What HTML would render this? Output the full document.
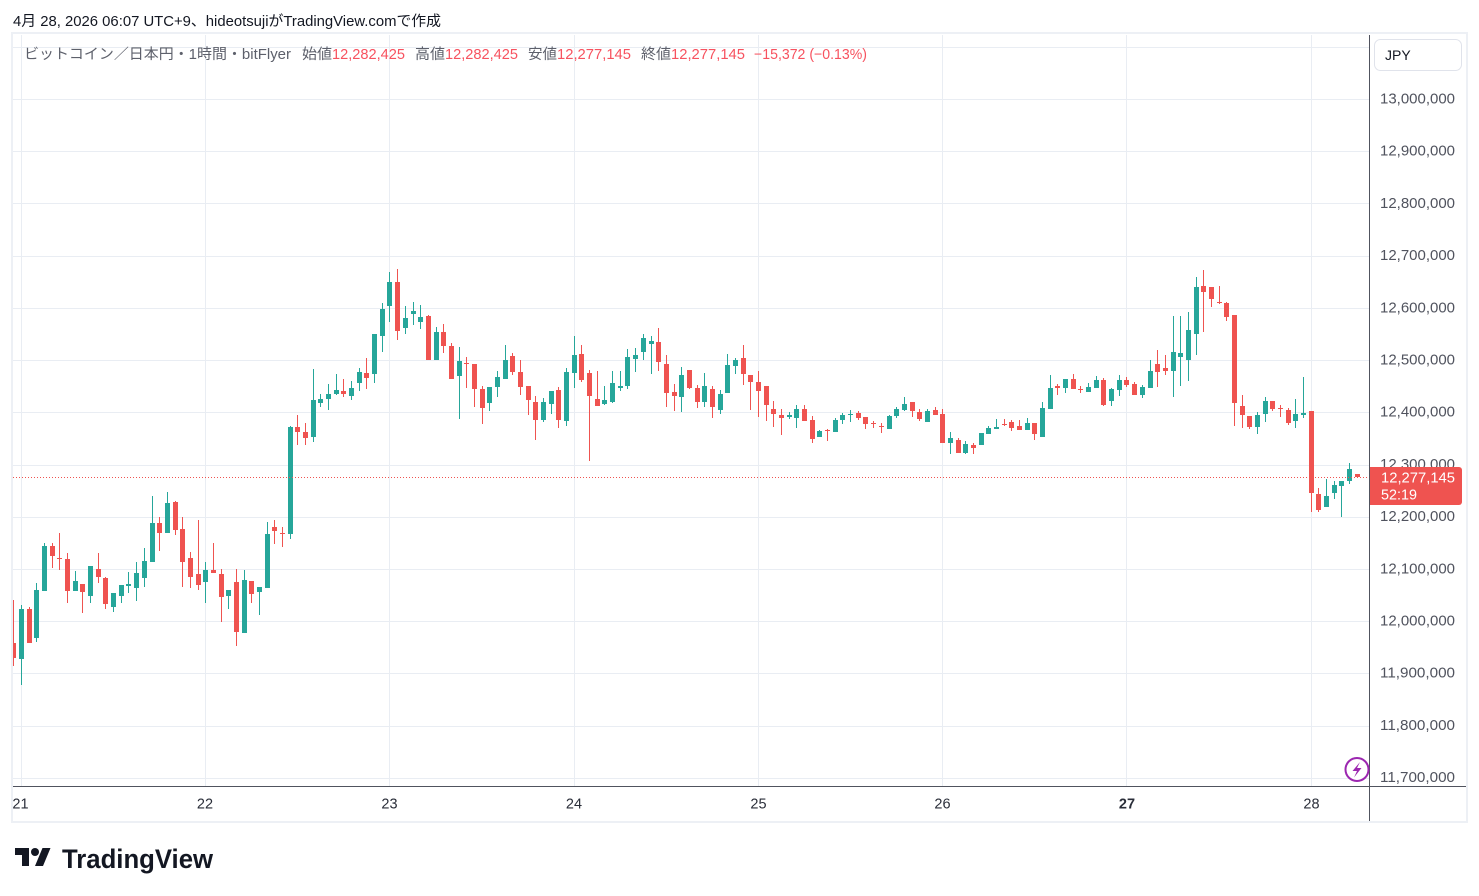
<!DOCTYPE html>
<html><head><meta charset="utf-8"><style>
html,body{margin:0;padding:0;background:#fff;}
svg{display:block;}
text{font-family:"Liberation Sans","Noto Sans CJK JP",sans-serif;}
</style></head><body>
<svg width="1479" height="896" viewBox="0 0 1479 896" xmlns="http://www.w3.org/2000/svg">
<rect x="0" y="0" width="1479" height="896" fill="#fff"/>
<!-- header -->
<text x="13" y="26" font-size="14.5" fill="#131722" textLength="428" lengthAdjust="spacingAndGlyphs">4月 28, 2026 06:07 UTC+9、hideotsujiがTradingView.comで作成</text>
<!-- frame -->
<rect x="12" y="33" width="1455" height="789" fill="none" stroke="#edf0f5" stroke-width="2"/>
<defs><clipPath id="pane"><rect x="13" y="35" width="1356" height="751"/></clipPath></defs>
<!-- grid -->
<g fill="#e9edf3">
<rect x="13" y="47" width="1356" height="1"/>
<rect x="13" y="99" width="1356" height="1"/>
<rect x="13" y="151" width="1356" height="1"/>
<rect x="13" y="203" width="1356" height="1"/>
<rect x="13" y="256" width="1356" height="1"/>
<rect x="13" y="308" width="1356" height="1"/>
<rect x="13" y="360" width="1356" height="1"/>
<rect x="13" y="412" width="1356" height="1"/>
<rect x="13" y="465" width="1356" height="1"/>
<rect x="13" y="517" width="1356" height="1"/>
<rect x="13" y="569" width="1356" height="1"/>
<rect x="13" y="621" width="1356" height="1"/>
<rect x="13" y="673" width="1356" height="1"/>
<rect x="13" y="726" width="1356" height="1"/>
<rect x="13" y="778" width="1356" height="1"/>
<rect x="21" y="35" width="1" height="751"/>
<rect x="205" y="35" width="1" height="751"/>
<rect x="389" y="35" width="1" height="751"/>
<rect x="574" y="35" width="1" height="751"/>
<rect x="758" y="35" width="1" height="751"/>
<rect x="942" y="35" width="1" height="751"/>
<rect x="1126" y="35" width="1" height="751"/>
<rect x="1311" y="35" width="1" height="751"/>
</g>
<!-- legend -->
<g font-size="14.5">
<text x="24" y="59" fill="#5d606b" textLength="267" lengthAdjust="spacingAndGlyphs">ビットコイン／日本円・1時間・bitFlyer</text>
<text x="302" y="59" fill="#5d606b" textLength="30" lengthAdjust="spacingAndGlyphs">始値</text>
<text x="332" y="59" fill="#f7525f" textLength="73" lengthAdjust="spacingAndGlyphs">12,282,425</text>
<text x="415" y="59" fill="#5d606b" textLength="30" lengthAdjust="spacingAndGlyphs">高値</text>
<text x="445" y="59" fill="#f7525f" textLength="73" lengthAdjust="spacingAndGlyphs">12,282,425</text>
<text x="528" y="59" fill="#5d606b" textLength="29" lengthAdjust="spacingAndGlyphs">安値</text>
<text x="557" y="59" fill="#f7525f" textLength="74" lengthAdjust="spacingAndGlyphs">12,277,145</text>
<text x="641" y="59" fill="#5d606b" textLength="30" lengthAdjust="spacingAndGlyphs">終値</text>
<text x="671" y="59" fill="#f7525f" textLength="74" lengthAdjust="spacingAndGlyphs">12,277,145</text>
<text x="754" y="59" fill="#f7525f" textLength="113" lengthAdjust="spacingAndGlyphs">−15,372 (−0.13%)</text>
</g>
<!-- candles -->
<g clip-path="url(#pane)">
<path fill="#26a69a" d="M19,609h5v50h-5zM21,605h1v80h-1zM34,590h5v48h-5zM36,583h1v59h-1zM42,546h5v45h-5zM44,543h1v48h-1zM73,581h5v10h-5zM75,571h1v20h-1zM88,566h5v30h-5zM90,566h1v37h-1zM111,593h5v14h-5zM113,593h1v19h-1zM119,585h5v11h-5zM121,585h1v18h-1zM126,584h5v2h-5zM128,572h1v21h-1zM134,573h5v15h-5zM136,562h1v39h-1zM142,561h5v17h-5zM144,548h1v39h-1zM150,523h5v39h-5zM152,496h1v66h-1zM165,503h5v30h-5zM167,492h1v41h-1zM203,570h5v12h-5zM205,562h1v41h-1zM226,590h5v6h-5zM228,590h1v19h-1zM242,580h5v53h-5zM244,570h1v63h-1zM257,587h5v5h-5zM259,587h1v28h-1zM265,534h5v54h-5zM267,522h1v66h-1zM288,427h5v107h-5zM290,426h1v113h-1zM311,400h5v37h-5zM313,369h1v73h-1zM318,399h5v4h-5zM320,394h1v13h-1zM326,394h5v5h-5zM328,384h1v26h-1zM334,390h5v4h-5zM336,374h1v21h-1zM349,388h5v8h-5zM351,381h1v19h-1zM357,372h5v11h-5zM359,368h1v23h-1zM372,334h5v40h-5zM374,334h1v49h-1zM380,309h5v27h-5zM382,303h1v49h-1zM387,282h5v24h-5zM389,272h1v50h-1zM403,318h5v10h-5zM405,306h1v28h-1zM411,311h5v3h-5zM413,302h1v23h-1zM418,317h5v5h-5zM420,305h1v24h-1zM434,332h5v28h-5zM436,327h1v33h-1zM457,361h5v15h-5zM459,347h1v72h-1zM487,387h5v16h-5zM489,387h1v24h-1zM495,377h5v10h-5zM497,371h1v26h-1zM503,360h5v19h-5zM505,345h1v34h-1zM541,402h5v18h-5zM543,398h1v24h-1zM549,391h5v13h-5zM551,391h1v23h-1zM564,372h5v49h-5zM566,368h1v58h-1zM572,355h5v18h-5zM574,336h1v52h-1zM602,400h5v4h-5zM604,386h1v19h-1zM610,383h5v19h-5zM612,371h1v32h-1zM618,386h5v2h-5zM620,371h1v20h-1zM625,357h5v29h-5zM627,349h1v40h-1zM633,355h5v4h-5zM635,348h1v24h-1zM641,338h5v14h-5zM643,334h1v26h-1zM649,341h5v3h-5zM651,336h1v38h-1zM679,375h5v22h-5zM681,367h1v45h-1zM702,386h5v16h-5zM704,373h1v34h-1zM718,394h5v16h-5zM720,390h1v24h-1zM725,365h5v28h-5zM727,354h1v39h-1zM733,360h5v6h-5zM735,358h1v16h-1zM787,415h5v2h-5zM789,412h1v7h-1zM794,409h5v9h-5zM796,405h1v23h-1zM817,431h5v6h-5zM819,430h1v7h-1zM833,420h5v12h-5zM835,418h1v14h-1zM840,415h5v5h-5zM842,413h1v11h-1zM848,414h5v1h-5zM850,410h1v12h-1zM887,416h5v13h-5zM889,415h1v14h-1zM894,409h5v7h-5zM896,407h1v11h-1zM902,404h5v6h-5zM904,397h1v14h-1zM925,411h5v11h-5zM927,409h1v13h-1zM948,438h5v5h-5zM950,432h1v22h-1zM963,444h5v9h-5zM965,441h1v13h-1zM979,433h5v12h-5zM981,433h1v12h-1zM986,428h5v6h-5zM988,426h1v8h-1zM994,427h5v2h-5zM996,419h1v10h-1zM1025,423h5v7h-5zM1027,418h1v12h-1zM1040,408h5v29h-5zM1042,402h1v35h-1zM1048,388h5v21h-5zM1050,375h1v34h-1zM1063,379h5v9h-5zM1065,379h1v14h-1zM1086,387h5v5h-5zM1088,383h1v9h-1zM1094,380h5v8h-5zM1096,376h1v12h-1zM1109,389h5v12h-5zM1111,388h1v18h-1zM1117,380h5v10h-5zM1119,375h1v21h-1zM1140,387h5v8h-5zM1142,385h1v13h-1zM1148,371h5v17h-5zM1150,360h1v28h-1zM1171,352h5v19h-5zM1173,316h1v81h-1zM1178,353h5v4h-5zM1180,316h1v70h-1zM1186,330h5v30h-5zM1188,312h1v69h-1zM1194,287h5v47h-5zM1196,277h1v78h-1zM1255,415h5v12h-5zM1257,412h1v22h-1zM1263,401h5v13h-5zM1265,397h1v25h-1zM1293,414h5v7h-5zM1295,399h1v29h-1zM1301,413h5v2h-5zM1303,377h1v41h-1zM1324,496h5v11h-5zM1326,479h1v28h-1zM1332,485h5v8h-5zM1334,481h1v18h-1zM1339,481h5v5h-5zM1341,481h1v36h-1zM1347,469h5v12h-5zM1349,463h1v21h-1z"/>
<path fill="#ef5350" d="M11,643h5v15h-5zM13,600h1v66h-1zM27,609h5v34h-5zM29,607h1v36h-1zM50,546h5v10h-5zM52,543h1v25h-1zM57,558h5v1h-5zM59,533h1v37h-1zM65,559h5v32h-5zM67,553h1v50h-1zM80,584h5v8h-5zM82,584h1v29h-1zM96,569h5v8h-5zM98,553h1v30h-1zM103,578h5v26h-5zM105,577h1v32h-1zM157,523h5v10h-5zM159,517h1v34h-1zM173,502h5v28h-5zM175,501h1v34h-1zM180,529h5v33h-5zM182,517h1v70h-1zM188,558h5v19h-5zM190,552h1v36h-1zM196,574h5v11h-5zM198,520h1v70h-1zM211,570h5v3h-5zM213,543h1v30h-1zM219,574h5v23h-5zM221,569h1v53h-1zM234,582h5v50h-5zM236,569h1v77h-1zM249,581h5v13h-5zM251,581h1v22h-1zM272,527h5v4h-5zM274,520h1v24h-1zM280,533h5v1h-5zM282,527h1v20h-1zM295,427h5v5h-5zM297,415h1v30h-1zM303,432h5v6h-5zM305,423h1v22h-1zM341,391h5v3h-5zM343,379h1v18h-1zM364,373h5v5h-5zM366,358h1v31h-1zM395,282h5v49h-5zM397,269h1v71h-1zM426,316h5v44h-5zM428,315h1v45h-1zM441,332h5v14h-5zM443,324h1v29h-1zM449,346h5v33h-5zM451,343h1v36h-1zM464,363h5v1h-5zM466,357h1v31h-1zM472,364h5v25h-5zM474,364h1v43h-1zM480,389h5v19h-5zM482,386h1v38h-1zM510,356h5v16h-5zM512,353h1v22h-1zM518,372h5v15h-5zM520,360h1v35h-1zM526,386h5v14h-5zM528,386h1v29h-1zM533,402h5v18h-5zM535,396h1v44h-1zM556,390h5v30h-5zM558,387h1v41h-1zM579,354h5v26h-5zM581,345h1v37h-1zM587,373h5v23h-5zM589,370h1v91h-1zM595,399h5v7h-5zM597,371h1v35h-1zM656,342h5v20h-5zM658,328h1v43h-1zM664,364h5v29h-5zM666,355h1v52h-1zM672,392h5v4h-5zM674,384h1v27h-1zM687,370h5v18h-5zM689,370h1v19h-1zM695,388h5v14h-5zM697,385h1v23h-1zM710,389h5v18h-5zM712,386h1v32h-1zM741,358h5v16h-5zM743,345h1v40h-1zM748,375h5v7h-5zM750,375h1v35h-1zM756,382h5v9h-5zM758,371h1v46h-1zM764,386h5v19h-5zM766,386h1v35h-1zM771,409h5v5h-5zM773,401h1v26h-1zM779,415h5v3h-5zM781,409h1v26h-1zM802,409h5v12h-5zM804,405h1v16h-1zM810,420h5v19h-5zM812,416h1v27h-1zM825,430h5v1h-5zM827,429h1v12h-1zM856,413h5v5h-5zM858,411h1v9h-1zM863,417h5v7h-5zM865,417h1v12h-1zM871,423h5v1h-5zM873,421h1v7h-1zM879,426h5v1h-5zM881,423h1v10h-1zM910,402h5v9h-5zM912,402h1v15h-1zM917,412h5v7h-5zM919,409h1v12h-1zM933,410h5v5h-5zM935,407h1v8h-1zM940,414h5v29h-5zM942,409h1v34h-1zM956,440h5v13h-5zM958,438h1v15h-1zM971,445h5v3h-5zM973,443h1v11h-1zM1002,424h5v1h-5zM1004,419h1v7h-1zM1009,422h5v6h-5zM1011,420h1v11h-1zM1017,426h5v4h-5zM1019,420h1v10h-1zM1032,423h5v11h-5zM1034,423h1v17h-1zM1055,386h5v2h-5zM1057,384h1v11h-1zM1071,379h5v10h-5zM1073,374h1v15h-1zM1078,389h5v1h-5zM1080,386h1v7h-1zM1101,380h5v25h-5zM1103,378h1v28h-1zM1124,380h5v5h-5zM1126,377h1v10h-1zM1132,384h5v11h-5zM1134,382h1v13h-1zM1155,364h5v8h-5zM1157,350h1v37h-1zM1163,368h5v3h-5zM1165,355h1v20h-1zM1201,286h5v6h-5zM1203,270h1v62h-1zM1209,287h5v12h-5zM1211,287h1v20h-1zM1217,302h5v1h-5zM1219,286h1v18h-1zM1224,303h5v14h-5zM1226,302h1v19h-1zM1232,315h5v88h-5zM1234,315h1v111h-1zM1240,406h5v9h-5zM1242,395h1v33h-1zM1247,416h5v11h-5zM1249,416h1v13h-1zM1270,401h5v8h-5zM1272,401h1v10h-1zM1278,408h5v1h-5zM1280,405h1v12h-1zM1286,410h5v13h-5zM1288,408h1v17h-1zM1309,411h5v82h-5zM1311,411h1v101h-1zM1316,494h5v16h-5zM1318,488h1v24h-1zM1355,474h5v3h-5z"/>
<line x1="13" y1="477.5" x2="1369" y2="477.5" stroke="#ef5350" stroke-width="1" stroke-dasharray="1 2"/>
</g>
<!-- axes lines -->
<rect x="1369" y="35" width="1" height="786" fill="#50535e"/>
<rect x="13" y="786" width="1453" height="1" fill="#50535e"/>
<!-- price labels -->
<g font-size="15" fill="#50535e">
<text x="1380" y="103.5" textLength="75" lengthAdjust="spacingAndGlyphs">13,000,000</text>
<text x="1380" y="155.7" textLength="75" lengthAdjust="spacingAndGlyphs">12,900,000</text>
<text x="1380" y="207.9" textLength="75" lengthAdjust="spacingAndGlyphs">12,800,000</text>
<text x="1380" y="260.1" textLength="75" lengthAdjust="spacingAndGlyphs">12,700,000</text>
<text x="1380" y="312.3" textLength="75" lengthAdjust="spacingAndGlyphs">12,600,000</text>
<text x="1380" y="364.5" textLength="75" lengthAdjust="spacingAndGlyphs">12,500,000</text>
<text x="1380" y="416.7" textLength="75" lengthAdjust="spacingAndGlyphs">12,400,000</text>
<text x="1380" y="468.9" textLength="75" lengthAdjust="spacingAndGlyphs">12,300,000</text>
<text x="1380" y="521.1" textLength="75" lengthAdjust="spacingAndGlyphs">12,200,000</text>
<text x="1380" y="573.3" textLength="75" lengthAdjust="spacingAndGlyphs">12,100,000</text>
<text x="1380" y="625.5" textLength="75" lengthAdjust="spacingAndGlyphs">12,000,000</text>
<text x="1380" y="677.7" textLength="75" lengthAdjust="spacingAndGlyphs">11,900,000</text>
<text x="1380" y="729.9" textLength="75" lengthAdjust="spacingAndGlyphs">11,800,000</text>
<text x="1380" y="782.1" textLength="75" lengthAdjust="spacingAndGlyphs">11,700,000</text>
</g>
<!-- current price box -->
<path d="M1370,467h89a3,3 0 0 1 3,3v32a3,3 0 0 1 -3,3h-89z" fill="#ef5350"/>
<text x="1381" y="482.5" font-size="15" fill="#fff" textLength="74" lengthAdjust="spacingAndGlyphs">12,277,145</text>
<text x="1381" y="499.5" font-size="15" fill="#fff" textLength="36" lengthAdjust="spacingAndGlyphs">52:19</text>
<!-- JPY box -->
<rect x="1374.5" y="39.5" width="87" height="31" rx="6" fill="#fff" stroke="#e0e3eb"/>
<text x="1385" y="60" font-size="14" fill="#131722">JPY</text>
<!-- time labels -->
<g font-size="14.5" fill="#2a2e39" text-anchor="middle">
<text x="20.5" y="808.5">21</text>
<text x="205" y="808.5">22</text>
<text x="389.5" y="808.5">23</text>
<text x="574" y="808.5">24</text>
<text x="758.5" y="808.5">25</text>
<text x="942.5" y="808.5">26</text>
<text x="1127" y="808.5" font-weight="bold">27</text>
<text x="1311.5" y="808.5">28</text>
</g>
<!-- lightning icon -->
<circle cx="1357" cy="769.5" r="11.5" fill="#fff" stroke="#9c27b0" stroke-width="2"/>
<path d="M1360,762 L1352.5,771 H1357 L1354,777.5 L1361.5,768 H1357 Z" fill="#9c27b0"/>
<!-- logo -->
<g transform="translate(15,844)" fill="#131722">
<path d="M14 22H7V11H0V4h14v18zM28 22h-8l7.5-18h8L28 22z"/>
<circle cx="20" cy="8" r="4"/>
</g>
<text x="62" y="868" font-size="27" font-weight="bold" fill="#131722" textLength="151" lengthAdjust="spacingAndGlyphs">TradingView</text>
</svg>
</body></html>
